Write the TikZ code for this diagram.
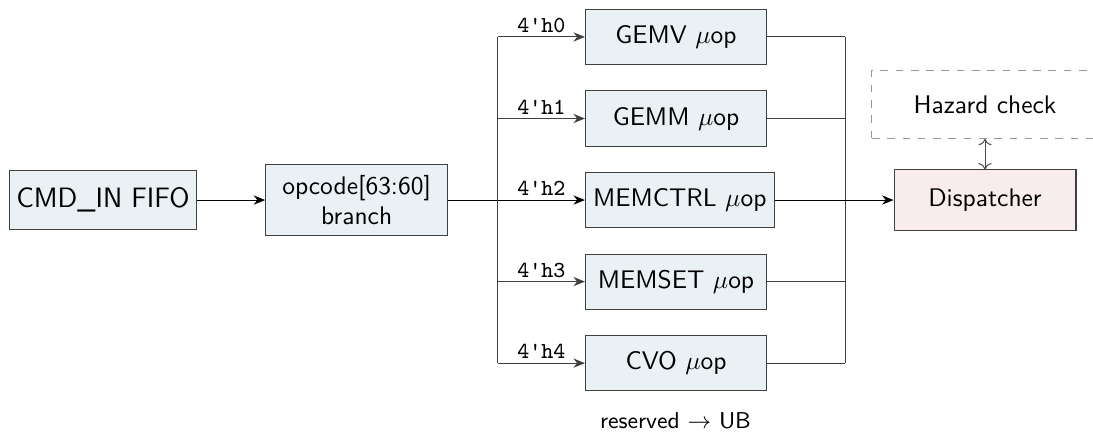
\documentclass[tikz,border=0pt]{standalone}
\usetikzlibrary{arrows.meta}
\definecolor{uopfill}{HTML}{EAF1F5}
\definecolor{dispfill}{HTML}{F8ECEC}

\begin{document}
\begin{tikzpicture}[>={Stealth[length=4.5pt,width=3.6pt]},
  blk/.style={draw=black!75,fill=uopfill,font=\sffamily,align=center,inner sep=3pt},
  uop/.style={blk,anchor=west,minimum width=2.5cm,minimum height=0.76cm},
  wire/.style={draw=black!75},
  code/.style={above,inner sep=1.5pt,font=\small\ttfamily}]
\useasboundingbox (0,-3.27) rectangle (15.08,2.76);
\node[blk,font=\sffamily\fontsize{11}{13}\selectfont,inner sep=2pt,minimum width=2.59cm,minimum height=0.81cm] (fifo) at (1.42,0) {CMD\_IN FIFO};
\node[blk,minimum width=2.51cm,minimum height=0.99cm] (dec) at (4.92,0) {opcode[63:60]\\branch};
\coordinate (fork) at (6.87,0);
\node[uop] (gemv) at (8.07,2.25) {GEMV $\mu$op};
\node[uop] (gemm) at (8.07,1.125) {GEMM $\mu$op};
\node[uop] (memctrl) at (8.07,0) {MEMCTRL $\mu$op};
\node[uop] (memset) at (8.07,-1.125) {MEMSET $\mu$op};
\node[uop] (cvo) at (8.07,-2.25) {CVO $\mu$op};
\coordinate (join) at (11.66,0);
\node[blk,fill=dispfill,minimum width=2.51cm,minimum height=0.83cm] (disp) at (13.59,0) {Dispatcher};
\node[draw=black!40,dashed,minimum width=3.12cm,minimum height=0.94cm,font=\sffamily] (haz) at (13.59,1.32) {Hazard check};
\node[font=\sffamily\small] (ub) at (9.32,-3.05) {reserved $\rightarrow$ UB};
% decode path
\draw[->] (fifo) -- (dec);
\draw (dec) -- (fork);
\draw[wire] (fork |- gemv) -- (fork |- cvo);
\draw[->,wire] (fork |- gemv) -- node[code] {4'h0} (gemv);
\draw[->,wire] (fork |- gemm) -- node[code] {4'h1} (gemm);
\draw[->] (fork) -- node[code] {4'h2} (memctrl);
\draw[->,wire] (fork |- memset) -- node[code] {4'h3} (memset);
\draw[->,wire] (fork |- cvo) -- node[code] {4'h4} (cvo);
% merge into dispatcher
\draw[wire] (gemv) -- (join |- gemv);
\draw[wire] (gemm) -- (join |- gemm);
\draw[wire] (memset) -- (join |- memset);
\draw[wire] (cvo) -- (join |- cvo);
\draw[wire] (join |- gemv) -- (join |- cvo);
\draw[->] (memctrl) -- (disp);
\draw[{To}-{To},black!70] (haz) -- (disp);
\end{tikzpicture}
\end{document}
